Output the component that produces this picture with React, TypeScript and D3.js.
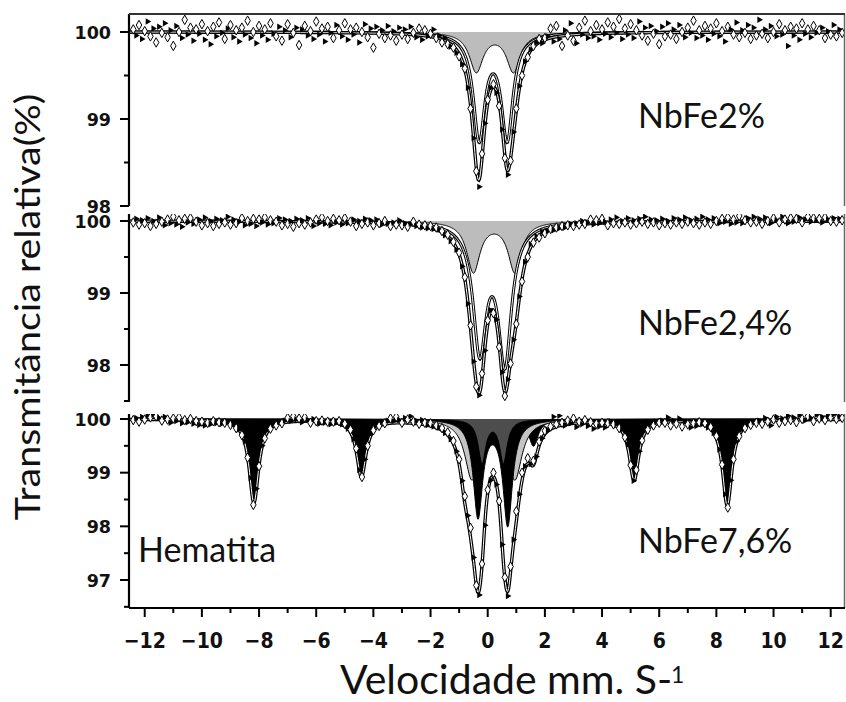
import React from "react";
import * as d3 from "d3";

// ---------------- data (transmission %, channel step 0.1 mm/s) ----------------
const velocityStep = 0.1;

// NbFe2%
const topDataLeft = [
  100.03, 99.96, 100.08, 99.92, 100.01, 100.12, 99.95, 100.04, 99.88, 100.06,
  99.99, 100.10, 99.94, 100.02, 99.84, 100.07, 100.00, 99.93, 100.14, 99.97,
  100.05, 99.90, 100.03, 99.98, 100.09, 99.91, 100.01, 99.86, 100.06, 99.95,
  100.11, 99.99, 99.92, 100.04, 100.08, 99.94, 100.02, 99.89, 100.05, 99.97,
  100.13, 99.93, 100.00, 99.87, 100.07, 99.96, 100.03, 99.91, 100.10, 99.98,
  99.95, 100.06, 99.90, 100.02, 100.09, 99.94, 99.99, 100.05, 99.85, 100.03,
  100.07, 99.96, 100.01, 99.92, 100.12, 99.97, 100.04, 99.89, 100.06, 99.99,
  99.93, 100.08, 100.02, 99.95, 100.10, 99.91, 100.03, 99.97, 100.05, 99.88,
  100.00, 100.09, 99.94, 100.04, 99.82, 100.06, 99.98, 100.02, 99.93, 100.07,
  99.96, 100.01, 99.90, 100.05, 99.97, 100.03, 99.92, 100.06, 99.99, 99.94,
  100.04, 99.91, 100.02, 99.95, 99.98, 100.03, 99.93, 99.96,
];
const topDataPeaks = [
  99.88, 99.93, 99.86, 99.83, 99.82, 99.76, 99.72, 99.63, 99.58, 99.36,
  99.12, 98.78, 98.40, 98.22, 98.60, 98.95, 99.22, 99.36, 99.40, 99.30,
  99.15, 98.88, 98.55, 98.36, 98.52, 98.85, 99.12, 99.38, 99.50, 99.66,
  99.71, 99.80, 99.84, 99.88, 99.92, 99.87, 99.93,
];
const topDataRight = [
  99.95, 100.04, 99.89, 100.07, 99.92, 99.84, 100.02, 99.96, 100.10, 99.90,
  99.87, 100.05, 99.97, 100.13, 99.93, 100.01, 99.95, 100.08, 99.91, 100.03,
  99.98, 100.11, 99.94, 100.06, 99.99, 100.15, 99.92, 100.04, 99.97, 100.09,
  99.93, 100.02, 100.12, 99.96, 100.05, 99.90, 100.07, 99.98, 100.01, 99.86,
  100.06, 99.95, 100.10, 99.97, 100.03, 99.92, 100.08, 100.00, 99.94, 100.05,
  99.99, 100.13, 99.93, 100.02, 99.96, 100.07, 99.91, 100.04, 99.98, 100.10,
  99.95, 100.01, 99.89, 100.06, 100.03, 99.97, 100.11, 99.94, 100.02, 99.99,
  100.08, 99.92, 100.05, 99.96, 100.14, 99.98, 100.03, 99.93, 100.07, 100.00,
  99.95, 100.09, 99.97, 100.02, 99.84, 100.06, 99.96, 100.04, 99.91, 100.10,
  99.98, 100.03, 99.94, 100.07, 99.99, 100.02, 100.05, 99.93, 100.01, 99.97,
  100.08, 99.95, 100.03, 99.99,
];

// NbFe2,4%
const midDataLeft = [
  99.98, 100.03, 99.95, 100.01, 99.97, 100.04, 99.93, 100.00, 99.96, 100.05,
  99.99, 99.94, 100.02, 99.97, 100.06, 99.95, 100.01, 99.92, 100.03, 99.98,
  100.04, 99.96, 99.99, 100.02, 99.94, 100.05, 99.97, 100.00, 99.93, 100.03,
  99.96, 100.01, 99.98, 100.06, 99.95, 100.02, 99.97, 99.99, 100.04, 99.94,
  100.00, 99.96, 100.03, 99.93, 100.02, 99.98, 100.05, 99.95, 100.01, 99.97,
  99.99, 100.04, 99.94, 100.02, 99.96, 100.00, 99.92, 100.03, 99.97, 100.01,
  99.95, 100.04, 99.98, 99.93, 100.02, 99.97, 100.05, 99.96, 100.00, 99.94,
  100.03, 99.98, 100.01, 99.95, 100.04, 99.97, 99.99, 100.02, 99.93, 100.00,
  99.96, 100.03, 99.98, 100.01, 99.94, 100.02, 99.97, 99.95, 100.00, 99.96,
  99.93, 99.98, 99.95, 100.01, 99.94, 99.97, 99.92, 99.96, 99.99, 99.93,
  99.95, 99.91, 99.94, 99.90, 99.93, 99.89, 99.91, 99.88,
];
const midDataPeaks = [
  99.86, 99.80, 99.81, 99.72, 99.71, 99.60, 99.56, 99.37, 99.22, 98.85,
  98.55, 98.05, 97.70, 97.58, 97.88, 98.20, 98.62, 98.76, 98.72, 98.63,
  98.25, 97.90, 97.57, 97.80, 98.02, 98.35, 98.57, 98.95, 99.16, 99.43,
  99.50, 99.68, 99.70, 99.79, 99.77, 99.85, 99.83,
];
const midDataRight = [
  99.86, 99.89, 99.87, 99.91, 99.90, 99.93, 99.91, 99.94, 99.96, 99.93,
  99.97, 99.95, 100.00, 99.96, 99.98, 100.02, 99.95, 100.01, 99.97, 100.03,
  99.99, 99.94, 100.02, 99.97, 100.05, 99.96, 100.00, 99.98, 100.04, 99.95,
  100.01, 99.97, 100.03, 99.99, 100.06, 99.96, 100.02, 99.98, 100.01, 99.94,
  100.03, 99.97, 100.00, 99.95, 100.04, 99.98, 100.02, 99.96, 100.05, 99.99,
  100.01, 99.97, 100.03, 99.95, 100.06, 99.98, 100.02, 99.96, 100.04, 100.00,
  99.97, 100.03, 99.99, 100.05, 99.96, 100.02, 99.98, 100.07, 99.97, 100.01,
  100.04, 99.98, 100.06, 99.99, 100.03, 99.96, 100.05, 100.00, 99.97, 100.04,
  100.01, 99.98, 100.06, 100.02, 99.97, 100.04, 99.99, 100.03, 100.05, 99.98,
  100.02, 100.06, 99.99, 100.04, 100.01, 100.03, 99.98, 100.05, 100.02, 100.00,
  100.04, 99.99, 100.03, 100.01,
];

// NbFe7,6%
const botData1 = [
  99.98, 100.02, 99.95, 100.04, 99.99, 100.06, 100.03, 100.08, 100.05, 100.02,
  99.97, 100.04, 99.99, 99.93, 100.01, 99.96, 100.03, 99.92, 99.98, 99.94,
  100.00, 99.91, 99.96, 99.89, 99.95, 99.88, 99.93, 99.90, 99.96, 99.92,
  99.94, 99.91,
];
const botDataLine1 = [
  99.93, 99.95, 99.89, 99.90, 99.83, 99.81, 99.70, 99.58, 99.28, 98.90,
  98.40, 98.70, 99.12, 99.50, 99.64, 99.80, 99.82, 99.90, 99.88, 99.95,
  99.92,
];
const botData2 = [
  99.97, 100.02, 99.96, 100.05, 99.99, 100.01, 99.94, 100.03, 99.98, 99.93,
  100.00, 99.96, 99.91, 99.97, 99.93, 99.95, 99.90,
];
const botDataLine2 = [
  99.95, 99.93, 99.96, 99.90, 99.91, 99.82, 99.80, 99.62, 99.45, 99.05,
  98.92, 99.25, 99.50, 99.72, 99.79, 99.88, 99.87, 99.95, 99.92, 99.97,
];
const botData3 = [
  100.01, 99.96, 100.04, 99.98, 99.93, 100.02, 99.99, 100.05, 99.95, 99.97,
  99.91, 99.98, 99.93, 99.89, 99.92, 99.86, 99.88, 99.84,
];
const botDataCenter = [
  99.83, 99.74, 99.75, 99.62, 99.59, 99.40, 99.25, 98.85, 98.56, 98.20,
  97.97, 97.42, 96.90, 96.72, 97.30, 98.02, 98.68, 98.86, 99.00, 98.78,
  98.47, 97.66, 97.05, 96.70, 97.25, 97.75, 98.28, 98.60, 99.00, 99.12,
  99.27, 99.16, 99.22, 99.30, 99.58, 99.64, 99.78,
];
const botData4 = [
  99.80, 99.86, 100.04, 99.90, 100.06, 99.93, 99.88, 99.97, 99.92, 100.01,
  99.85, 99.95, 99.90, 99.98, 99.87, 99.94, 99.82, 99.91, 99.86, 99.93,
  99.84,
];
const botDataLine5 = [
  99.92, 99.96, 99.90, 99.92, 99.83, 99.81, 99.66, 99.52, 99.14, 98.85,
  99.05, 99.40, 99.60, 99.78, 99.80, 99.90, 99.88, 99.95, 99.93, 99.97,
];
const botData5 = [
  99.93, 100.03, 99.88, 99.97, 99.91, 100.01, 99.86, 99.95, 99.90, 99.84,
  99.92, 99.87,
];
const botDataLine6 = [
  99.94, 99.90, 99.92, 99.84, 99.85, 99.74, 99.68, 99.43, 99.15, 98.60,
  98.35, 98.86, 99.25, 99.58, 99.68, 99.81, 99.83, 99.91, 99.89, 99.95,
  99.93,
];
const botData6 = [
  99.97, 99.91, 100.02, 99.95, 99.88, 99.99, 100.04, 99.93, 100.01, 99.96,
  100.06, 99.98, 100.03, 99.94, 100.07, 100.00, 99.97, 100.05, 100.02, 99.96,
  100.08, 100.01, 100.04, 99.98, 100.06, 100.03, 100.09, 100.00, 100.05, 100.02,
];

// ---------------- fitted sub-spectra (Lorentzian lines: centre, depth %, HWHM) ----------------
const topBroadCenters = [-0.4, 0.9];
const topBroadDepths = [0.45, 0.45];
const topBroadHwhm = 0.29;
const topNarrowCenters = [-0.3, 0.68];
const topNarrowDepths = [1.2, 1.2];
const topNarrowHwhm = 0.245;

const midBroadCenters = [-0.5, 0.95];
const midBroadDepths = [0.7, 0.7];
const midBroadHwhm = 0.28;
const midNarrowCenters = [-0.28, 0.6];
const midNarrowDepths = [1.74, 1.9];
const midNarrowHwhm = 0.28;

const hematiteCenters = [-8.18, -4.42, -0.8, 1.6, 5.12, 8.38];
const hematiteDepths = [1.55, 1.05, 0.5, 0.5, 1.12, 1.6];
const hematiteHwhm = 0.2;
const botLightCenters = [-0.55, 0.95];
const botLightDepths = [1.1, 1.1];
const botLightHwhm = 0.3;
const botBlackCenters = [-0.34, 0.7];
const botBlackDepths = [1.8, 1.95];
const botBlackHwhm = 0.2;
const botDarkCenters = [-0.2, 0.55];
const botDarkDepths = [0.8, 0.8];
const botDarkHwhm = 0.16;

// ---------------- axes ----------------
const xDomain = [-12.55, 12.5];
const xTickValues = [-12, -10, -8, -6, -4, -2, 0, 2, 4, 6, 8, 10, 12];
const xTickLabels = ["−12", "−10", "−8", "−6", "−4", "−2", "0", "2", "4", "6", "8", "10", "12"];
const xMinorTicks = [-11, -9, -7, -5, -3, -1, 1, 3, 5, 7, 9, 11];

const topYTicks = [100, 99, 98];
const topYMinor = [99.5, 98.5];
const midYTicks = [100, 99, 98];
const midYMinor = [99.5, 98.5, 97.5];
const botYTicks = [100, 99, 98, 97];
const botYMinor = [99.5, 98.5, 97.5, 96.5];

const panelLabels = ["NbFe2%", "NbFe2,4%", "NbFe7,6%"];
const hematiteLabel = "Hematita";
const yTitle = "Transmitância relativa(%)";
const xTitle = "Velocidade mm. S-";
const xTitleSup = "1";

// ---------------- helpers ----------------
type Comp = { centers: number[]; depths: number[]; hwhm: number };

function compDepth(c: Comp, v: number) {
  let s = 0;
  for (let i = 0; i < c.centers.length; i++) {
    const u = (v - c.centers[i]) / c.hwhm;
    s += c.depths[i] / (1 + u * u);
  }
  return s;
}

function expand(segs: [number, number[]][]) {
  const out: { v: number; t: number; k: number }[] = [];
  segs.forEach(([start, vals]) => {
    vals.forEach((t, i) => {
      out.push({ v: start + i * velocityStep, t, k: out.length });
    });
  });
  return out;
}

const LEFT = 129;
const RIGHT = 845;
const x = d3.scaleLinear().domain(xDomain).range([LEFT, RIGHT]);
const grid = d3.range(xDomain[0], xDomain[1] + 0.001, 0.02);

const FONT_TXT = "Lato, 'Open Sans', sans-serif";
const FONT_TICK = "'DejaVu Sans', sans-serif";
const FONT_XTICK = "'Liberation Sans Narrow', 'DejaVu Sans Condensed', 'Liberation Sans', sans-serif";

const diamond = d3.symbol(d3.symbolDiamond, 26)() as string;
const tri = d3.symbol(d3.symbolTriangle, 18)() as string;

type Panel = {
  key: string;
  yDomain: [number, number];
  yRange: [number, number];
  frameTop: number;
  frameBottom: number;
  topLine: boolean;
  ticks: number[];
  minor: number[];
  segs: [number, number[]][];
  fills: (Comp & { fill: string })[];
  lines: Comp[];
  label: string;
  labelY: number;
};

const panels: Panel[] = [
  {
    key: "top",
    yDomain: [98, 100],
    yRange: [206, 32],
    frameTop: 14,
    frameBottom: 206,
    topLine: true,
    ticks: topYTicks,
    minor: topYMinor,
    segs: [[-12.4, topDataLeft], [-1.6, topDataPeaks], [2.1, topDataRight]],
    fills: [{ centers: topBroadCenters, depths: topBroadDepths, hwhm: topBroadHwhm, fill: "#bcbcbc" }],
    lines: [{ centers: topNarrowCenters, depths: topNarrowDepths, hwhm: topNarrowHwhm }],
    label: panelLabels[0],
    labelY: 128,
  },
  {
    key: "mid",
    yDomain: [98, 100],
    yRange: [365, 221],
    frameTop: 214,
    frameBottom: 402,
    topLine: false,
    ticks: midYTicks,
    minor: midYMinor,
    segs: [[-12.4, midDataLeft], [-1.6, midDataPeaks], [2.1, midDataRight]],
    fills: [{ centers: midBroadCenters, depths: midBroadDepths, hwhm: midBroadHwhm, fill: "#bcbcbc" }],
    lines: [{ centers: midNarrowCenters, depths: midNarrowDepths, hwhm: midNarrowHwhm }],
    label: panelLabels[1],
    labelY: 335,
  },
  {
    key: "bot",
    yDomain: [97, 100],
    yRange: [580, 419],
    frameTop: 414,
    frameBottom: 608,
    topLine: false,
    ticks: botYTicks,
    minor: botYMinor,
    segs: [
      [-12.4, botData1], [-9.2, botDataLine1], [-7.1, botData2], [-5.4, botDataLine2],
      [-3.4, botData3], [-1.6, botDataCenter], [2.1, botData4], [4.2, botDataLine5],
      [6.2, botData5], [7.4, botDataLine6], [9.5, botData6],
    ],
    fills: [
      { centers: hematiteCenters, depths: hematiteDepths, hwhm: hematiteHwhm, fill: "#000" },
      { centers: botLightCenters, depths: botLightDepths, hwhm: botLightHwhm, fill: "#c4c4c4" },
      { centers: botBlackCenters, depths: botBlackDepths, hwhm: botBlackHwhm, fill: "#000" },
      { centers: botDarkCenters, depths: botDarkDepths, hwhm: botDarkHwhm, fill: "#4d4d4d" },
    ],
    lines: [],
    label: panelLabels[2],
    labelY: 553,
  },
];

function PanelView({ p }: { p: Panel }) {
  const y = d3.scaleLinear().domain(p.yDomain).range(p.yRange);
  const y100 = y(100);
  const allComps: Comp[] = [...p.fills, ...p.lines];
  const envelope = d3
    .line<number>()
    .x((v) => x(v))
    .y((v) => y(100 - allComps.reduce((s, c) => s + compDepth(c, v), 0)));
  const pts = expand(p.segs);
  const clipId = `clip-${p.key}`;
  const envD = envelope(grid) as string;
  return (
    <g>
      <defs>
        <clipPath id={clipId}>
          <rect x={LEFT} y={p.frameTop} width={RIGHT - LEFT} height={p.frameBottom - p.frameTop} />
        </clipPath>
      </defs>
      <g clipPath={`url(#${clipId})`}>
        {p.fills.map((c, i) => {
          const area = d3
            .area<number>()
            .x((v) => x(v))
            .y0(y100)
            .y1((v) => y(100 - compDepth(c, v)));
          const line = d3
            .line<number>()
            .x((v) => x(v))
            .y((v) => y(100 - compDepth(c, v)));
          return (
            <g key={i}>
              <path d={area(grid) as string} fill={c.fill} />
              <path d={line(grid) as string} fill="none" stroke="#000" strokeWidth={1} />
            </g>
          );
        })}
        {p.lines.map((c, i) => {
          const line = d3
            .line<number>()
            .x((v) => x(v))
            .y((v) => y(100 - compDepth(c, v)));
          const d = line(grid) as string;
          return (
            <g key={i}>
              <path d={d} fill="none" stroke="#000" strokeWidth={3} />
              <path d={d} fill="none" stroke="#fff" strokeWidth={1} />
            </g>
          );
        })}
        <path d={envD} fill="none" stroke="#000" strokeWidth={3.4} />
        <path d={envD} fill="none" stroke="#fff" strokeWidth={1} />
        {pts.map((d) =>
          d.k % 2 === 0 ? (
            <path
              key={d.k}
              d={diamond}
              transform={`translate(${x(d.v)},${y(d.t)})`}
              fill="#fff"
              stroke="#000"
              strokeWidth={1}
            />
          ) : (
            <path key={d.k} d={tri} transform={`translate(${x(d.v)},${y(d.t)}) rotate(90)`} fill="#000" />
          )
        )}
      </g>
      {/* frame */}
      <line x1={LEFT} x2={LEFT} y1={p.frameTop} y2={p.frameBottom} stroke="#000" strokeWidth={2.2} />
      <line x1={RIGHT - 0.5} x2={RIGHT - 0.5} y1={p.frameTop} y2={p.frameBottom} stroke="#666" strokeWidth={1.5} />
      {p.topLine && (
        <line x1={LEFT} x2={RIGHT} y1={p.frameTop} y2={p.frameTop} stroke="#333" strokeWidth={2} />
      )}
      {p.ticks.map((t) => (
        <g key={t}>
          <line x1={LEFT - 9} x2={LEFT} y1={y(t)} y2={y(t)} stroke="#000" strokeWidth={2} />
          <text
            x={111}
            y={y(t) + 6.5}
            textAnchor="end"
            fontFamily={FONT_TICK}
            fontWeight="bold"
            fontSize={17.5}
            fill="#111"
          >
            {String(t)}
          </text>
        </g>
      ))}
      {p.minor.map((t) => (
        <line key={t} x1={LEFT - 5} x2={LEFT} y1={y(t)} y2={y(t)} stroke="#000" strokeWidth={2} />
      ))}
      <text x={638} y={p.labelY} fontFamily={FONT_TXT} fontSize={34} fill="#111">
        {p.label}
      </text>
    </g>
  );
}

export default function App() {
  const axisY = 608;
  return (
    <svg
      width={846}
      height={702}
      viewBox="0 0 846 702"
      style={{ position: "absolute", left: 0, top: 0, background: "#fff" }}
    >
      <rect x={0} y={0} width={846} height={702} fill="#fff" />
      {panels.map((p) => (
        <PanelView key={p.key} p={p} />
      ))}
      {/* x axis */}
      <line x1={LEFT} x2={RIGHT} y1={axisY} y2={axisY} stroke="#000" strokeWidth={2.2} />
      {xTickValues.map((v, i) => (
        <g key={v}>
          <line x1={x(v)} x2={x(v)} y1={axisY} y2={axisY + 9} stroke="#000" strokeWidth={2} />
          <text
            x={x(v)}
            y={648}
            textAnchor="middle"
            fontFamily={FONT_XTICK}
            fontWeight="bold"
            fontSize={21}
            fill="#111"
          >
            {xTickLabels[i]}
          </text>
        </g>
      ))}
      {xMinorTicks.map((v) => (
        <line key={v} x1={x(v)} x2={x(v)} y1={axisY} y2={axisY + 5} stroke="#000" strokeWidth={2} />
      ))}
      <text x={138} y={562} fontFamily={FONT_TXT} fontSize={34} fill="#111">
        {hematiteLabel}
      </text>
      <text
        transform="translate(40,307) rotate(-90) scale(1.16,1)"
        textAnchor="middle"
        fontFamily={FONT_TXT}
        fontSize={34}
        fill="#111"
      >
        {yTitle}
      </text>
      <text x={340} y={694} fontFamily={FONT_TXT} fontSize={41} fill="#111">
        {xTitle}
      </text>
      <text x={671} y={683} fontFamily={FONT_TXT} fontSize={23} fill="#111">
        {xTitleSup}
      </text>
    </svg>
  );
}
